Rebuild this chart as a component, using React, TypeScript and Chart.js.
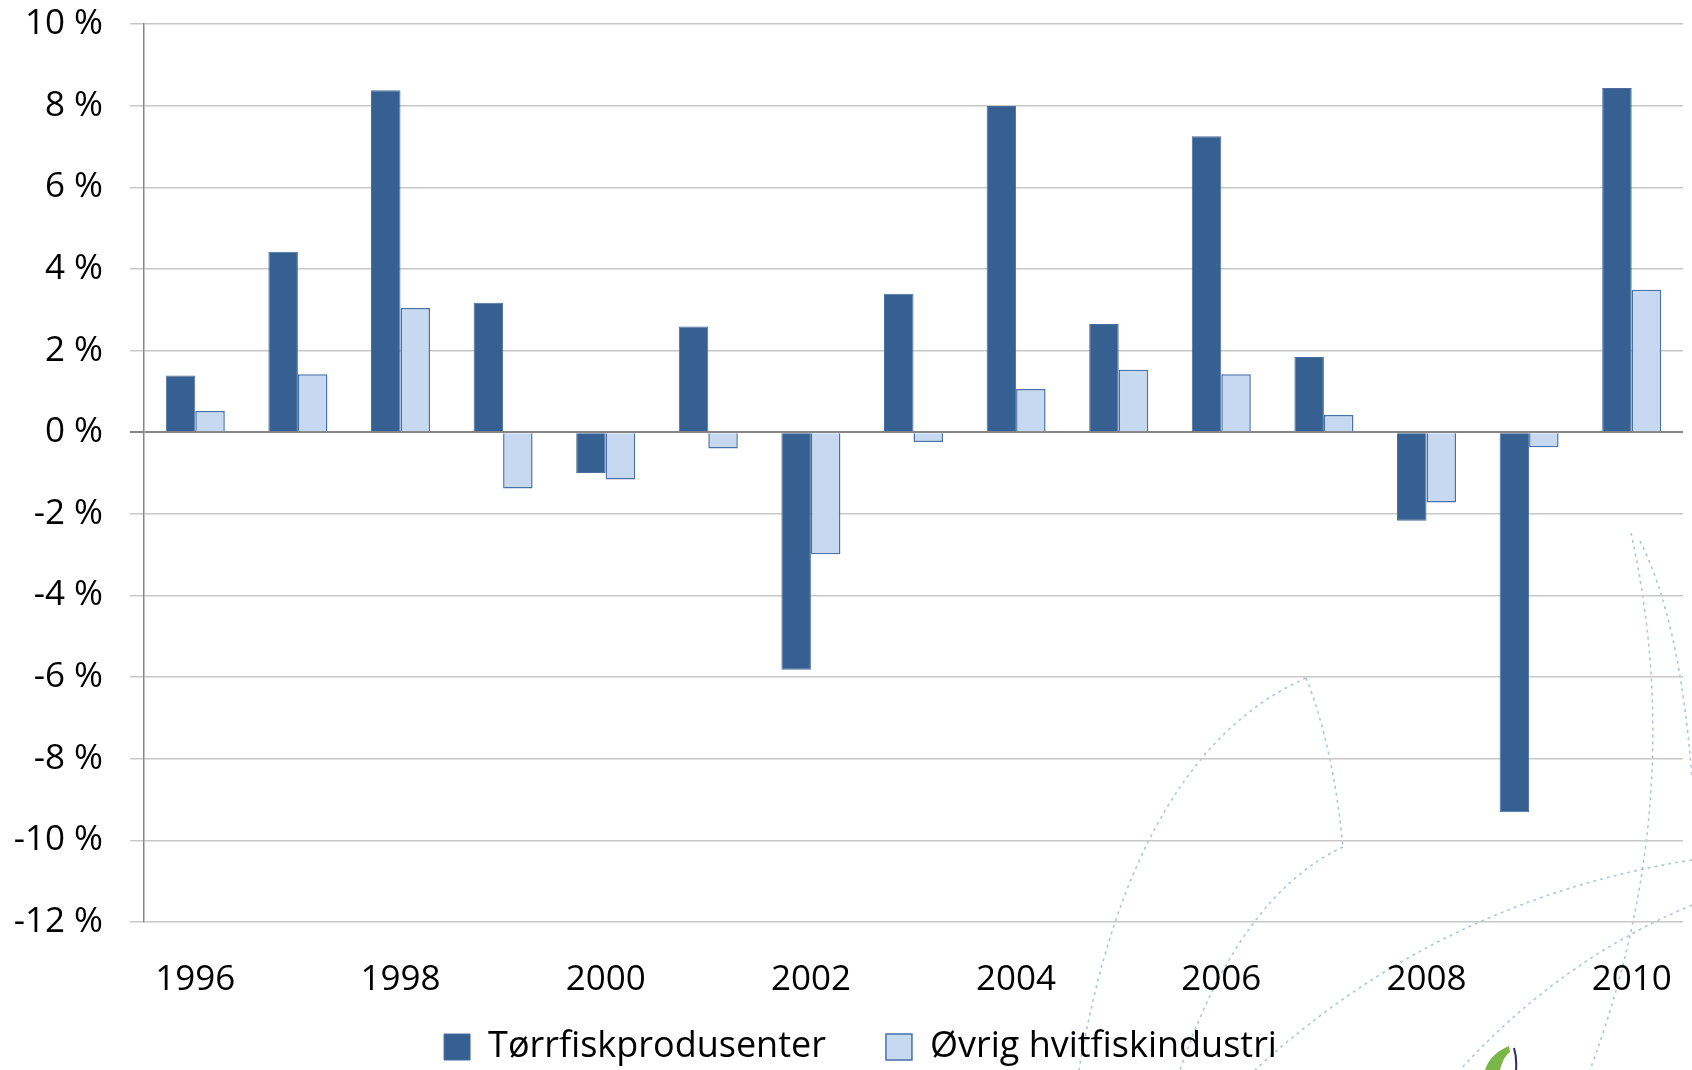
import React, { useEffect, useRef } from "react";
import { Chart, registerables } from "chart.js";

Chart.register(...registerables);

const years = ["1996", "1997", "1998", "1999", "2000", "2001", "2002", "2003", "2004", "2005", "2006", "2007", "2008", "2009", "2010"];
const torrfisk = [1.39, 4.42, 8.38, 3.17, -1.0, 2.59, -5.82, 3.39, 7.99, 2.65, 7.25, 1.84, -2.17, -9.31, 8.43];
const ovrig = [0.52, 1.42, 3.04, -1.38, -1.16, -0.40, -2.99, -0.24, 1.06, 1.53, 1.42, 0.42, -1.72, -0.37, 3.49];
const seriesNames = ["Tørrfiskprodusenter", "Øvrig hvitfiskindustri"];
const yMin = -12;
const yMax = 10;
const yStep = 2;

const FONT = "'Open Sans', sans-serif";

// decorative background watermark (dashed curves + logo fragment), not data
const watermark = {
  id: "watermark",
  beforeDraw(chart: any) {
    const ctx = chart.ctx;
    const curves: number[][] = [
      [1306, 678, 1133, 755, 1079, 1070],
      [1306, 678, 1333, 745, 1343, 847],
      [1343, 847, 1240, 895, 1180, 1070],
      [1692, 860, 1440, 900, 1255, 1070],
      [1692, 905, 1560, 960, 1460, 1070],
      [1631, 533, 1690, 800, 1590, 1070],
      [1640, 541, 1680, 620, 1692, 778],
    ];
    ctx.save();
    ctx.strokeStyle = "rgba(150,182,200,0.75)";
    ctx.lineWidth = 1.6;
    ctx.setLineDash([3, 4]);
    for (const c of curves) {
      ctx.beginPath();
      ctx.moveTo(c[0], c[1]);
      ctx.quadraticCurveTo(c[2], c[3], c[4], c[5]);
      ctx.stroke();
    }
    ctx.setLineDash([]);
    ctx.fillStyle = "#7AB648";
    ctx.beginPath();
    ctx.moveTo(1509, 1046);
    ctx.quadraticCurveTo(1490, 1054, 1485, 1070);
    ctx.lineTo(1500, 1070);
    ctx.quadraticCurveTo(1503, 1057, 1510, 1052);
    ctx.closePath();
    ctx.fill();
    ctx.strokeStyle = "#2B2B6E";
    ctx.lineWidth = 2;
    ctx.beginPath();
    ctx.moveTo(1514, 1048);
    ctx.quadraticCurveTo(1517, 1058, 1516, 1070);
    ctx.stroke();
    ctx.restore();
  },
};

export default function App() {
  const ref = useRef<HTMLCanvasElement | null>(null);

  useEffect(() => {
    document.body.style.margin = "0";
    const canvas = ref.current;
    if (!canvas) return;
    const chart = new Chart(canvas, {
      type: "bar",
      data: {
        labels: years,
        datasets: [
          {
            label: seriesNames[0],
            data: torrfisk,
            backgroundColor: "#366092",
            borderColor: "#4A6E9E",
            borderWidth: 1,
          },
          {
            label: seriesNames[1],
            data: ovrig,
            backgroundColor: "#C6D9F1",
            borderColor: "#4A70A8",
            borderWidth: 1.5,
          },
        ],
      },
      plugins: [watermark],
      options: {
        responsive: false,
        animation: false,
        layout: { padding: { left: 38, right: 9, top: 24, bottom: -5 } },
        datasets: {
          bar: { categoryPercentage: 0.575, barPercentage: 1.0 },
        },
        plugins: {
          legend: {
            position: "bottom",
            labels: {
              font: { family: FONT, size: 36 },
              color: "#000",
              boxWidth: 26,
              boxHeight: 26,
              padding: 60,
            },
          },
          tooltip: { enabled: false },
        },
        scales: {
          x: {
            grid: { display: false, drawTicks: false },
            border: { display: false },
            ticks: {
              autoSkip: false,
              maxRotation: 0,
              padding: 37,
              color: "#000",
              font: { family: FONT, size: 35 },
              callback: (_v: any, i: number) => (i % 2 === 0 ? years[i] : ""),
            },
            afterFit: (s: any) => {
              s.height = 47;
              s.paddingLeft = 0;
              s.paddingRight = 0;
              s._computeLabelArea = () => undefined;
            },
          },
          y: {
            min: yMin,
            max: yMax,
            ticks: {
              stepSize: yStep,
              padding: 27,
              color: "#000",
              font: { family: FONT, size: 35 },
              callback: (v: any) => `${v} %`,
            },
            grid: {
              color: (ctx: any) => (ctx.tick && ctx.tick.value === 0 ? "#868686" : "#C8C8C8"),
              lineWidth: (ctx: any) => (ctx.tick && ctx.tick.value === 0 ? 2 : 1.5),
              tickLength: 14,
              drawTicks: true,
            },
            border: { display: true, color: "#868686", width: 1.5 },
            afterFit: (s: any) => {
              s.width = 106;
              s.paddingTop = 0;
              s.paddingBottom = 0;
              s._computeLabelArea = () => undefined;
            },
          },
        },
      },
    });
    return () => chart.destroy();
  }, []);

  return <canvas ref={ref} width={1692} height={1070} style={{ display: "block" }} />;
}
